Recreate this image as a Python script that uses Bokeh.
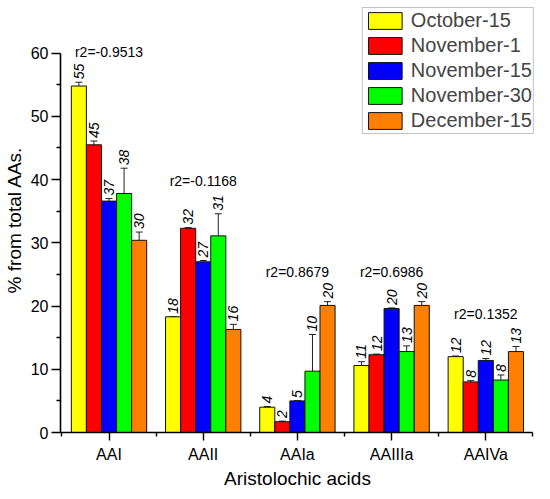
import numpy as np

from bokeh.plotting import figure
from bokeh.embed import file_html
from bokeh.resources import INLINE
from bokeh.core.properties import value
from bokeh.models import ColumnDataSource, FixedTicker, Range1d, Whisker, TeeHead

# data
categories = ['AAI', 'AAII', 'AAIa', 'AAIIIa', 'AAIVa']
dates = ['October-15', 'November-1', 'November-15', 'November-30', 'December-15']
colors = ['#FFFF00', '#FF0000', '#0000FF', '#00FF00', '#FF8000']

oct15 = [54.8, 18.3, 4.0, 10.6, 12.0]
nov1 = [45.5, 32.3, 1.7, 12.3, 8.0]
nov15 = [36.6, 27.0, 5.0, 19.6, 11.4]
nov30 = [37.8, 31.1, 9.7, 12.8, 8.3]
dec15 = [30.4, 16.3, 20.1, 20.1, 12.8]

oct15_err = [0.6, 0.0, 0.1, 0.6, 0.1]
nov1_err = [0.6, 0.1, 0.1, 0.1, 0.2]
nov15_err = [0.4, 0.2, 0.0, 0.1, 0.3]
nov30_err = [4.0, 3.5, 5.8, 0.9, 0.8]
dec15_err = [1.3, 0.8, 0.6, 0.6, 0.8]

oct15_lbl = ['55', '18', '4', '11', '12']
nov1_lbl = ['45', '32', '2', '12', '8']
nov15_lbl = ['37', '27', '5', '20', '12']
nov30_lbl = ['38', '31', '10', '13', '8']
dec15_lbl = ['30', '16', '20', '20', '13']

r2_text = ['r2=-0.9513', 'r2=-0.1168', 'r2=0.8679', 'r2=0.6986', 'r2=0.1352']
r2_y = [60.2, 39.7, 25.4, 25.4, 18.8]

values = [oct15, nov1, nov15, nov30, dec15]
errors = [oct15_err, nov1_err, nov15_err, nov30_err, dec15_err]
labels = [oct15_lbl, nov1_lbl, nov15_lbl, nov30_lbl, dec15_lbl]

font = 'Liberation Sans'
bar_w = 0.16
cat_x = np.arange(1, len(categories) + 1)

p = figure(width=534, height=491, output_backend='svg', toolbar_location=None,
           x_range=Range1d(0.485, 5.517), y_range=Range1d(0, 67.22),
           min_border_left=55, min_border_right=0, min_border_top=7, min_border_bottom=56)
p.outline_line_color = None
p.xgrid.grid_line_color = None
p.ygrid.grid_line_color = None

for i, date in enumerate(dates):
    xs = cat_x + (i - 2) * bar_w
    vals = np.array(values[i])
    errs = np.array(errors[i])
    src = ColumnDataSource(dict(x=xs, top=vals, upper=vals + errs, lower=vals - errs, lbl=labels[i]))
    p.vbar(x='x', top='top', width=bar_w, source=src, fill_color=colors[i],
           line_color='#111111', line_width=1, legend_label=date)
    whisk = Whisker(source=src, base='x', upper='upper', lower='lower',
                    line_color='#222222', line_width=1,
                    upper_head=TeeHead(size=7, line_color='#222222', line_width=1),
                    lower_head=TeeHead(size=7, line_color='#222222', line_width=1))
    p.add_layout(whisk)
    p.text(x='x', y='upper', text='lbl', source=src, angle=np.pi / 2,
           text_align='left', text_baseline='middle', y_offset=-3,
           text_font=value(font), text_font_size='14px', text_font_style='italic',
           text_color='black', background_fill_color='white', padding=0)

r2_src = ColumnDataSource(dict(x=cat_x, y=r2_y, t=r2_text))
p.text(x='x', y='y', text='t', source=r2_src, text_align='center', text_baseline='middle',
       text_font=value(font), text_font_size='14px', text_color='black')

# axes
p.xaxis.ticker = FixedTicker(ticks=list(cat_x), minor_ticks=list(cat_x - 0.5) + [cat_x[-1] + 0.5])
p.xaxis.major_label_overrides = {int(x): c for x, c in zip(cat_x, categories)}
p.xaxis.bounds = (0.485, 5.5)
p.yaxis.ticker = FixedTicker(ticks=[0, 10, 20, 30, 40, 50, 60], minor_ticks=[5, 15, 25, 35, 45, 55])
p.yaxis.bounds = (0, 60)
p.xaxis.axis_label = 'Aristolochic acids'
p.yaxis.axis_label = '% from total AAs.'
for ax in (p.xaxis[0], p.yaxis[0]):
    ax.axis_line_width = 1.6
    ax.axis_line_color = 'black'
    ax.major_tick_line_width = 1.4
    ax.minor_tick_line_width = 1.4
    ax.major_tick_in = 0
    ax.major_tick_out = 8
    ax.minor_tick_in = 0
    ax.minor_tick_out = 4
    ax.major_label_text_font = font
    ax.major_label_text_font_size = '16px'
    ax.major_label_text_color = 'black'
    ax.axis_label_text_font = font
    ax.axis_label_text_font_size = '19px'
    ax.axis_label_text_font_style = 'normal'
    ax.axis_label_text_color = 'black'
p.xaxis.major_label_standoff = 5
p.xaxis.axis_label_standoff = 2
p.yaxis.major_tick_out = 9
p.yaxis.major_label_standoff = 3
p.yaxis.axis_label_standoff = 3

# legend
lg = p.legend[0]
lg.location = 'top_right'
lg.margin = 0
lg.padding = 1
lg.spacing = 2
lg.glyph_width = 42
lg.glyph_height = 21
lg.label_height = 21
lg.label_standoff = 5
lg.label_text_font = font
lg.label_text_font_size = '20px'
lg.border_line_color = '#888888'
lg.border_line_width = 1.5
lg.background_fill_alpha = 1

open('out.html', 'w').write(file_html(p, INLINE))
